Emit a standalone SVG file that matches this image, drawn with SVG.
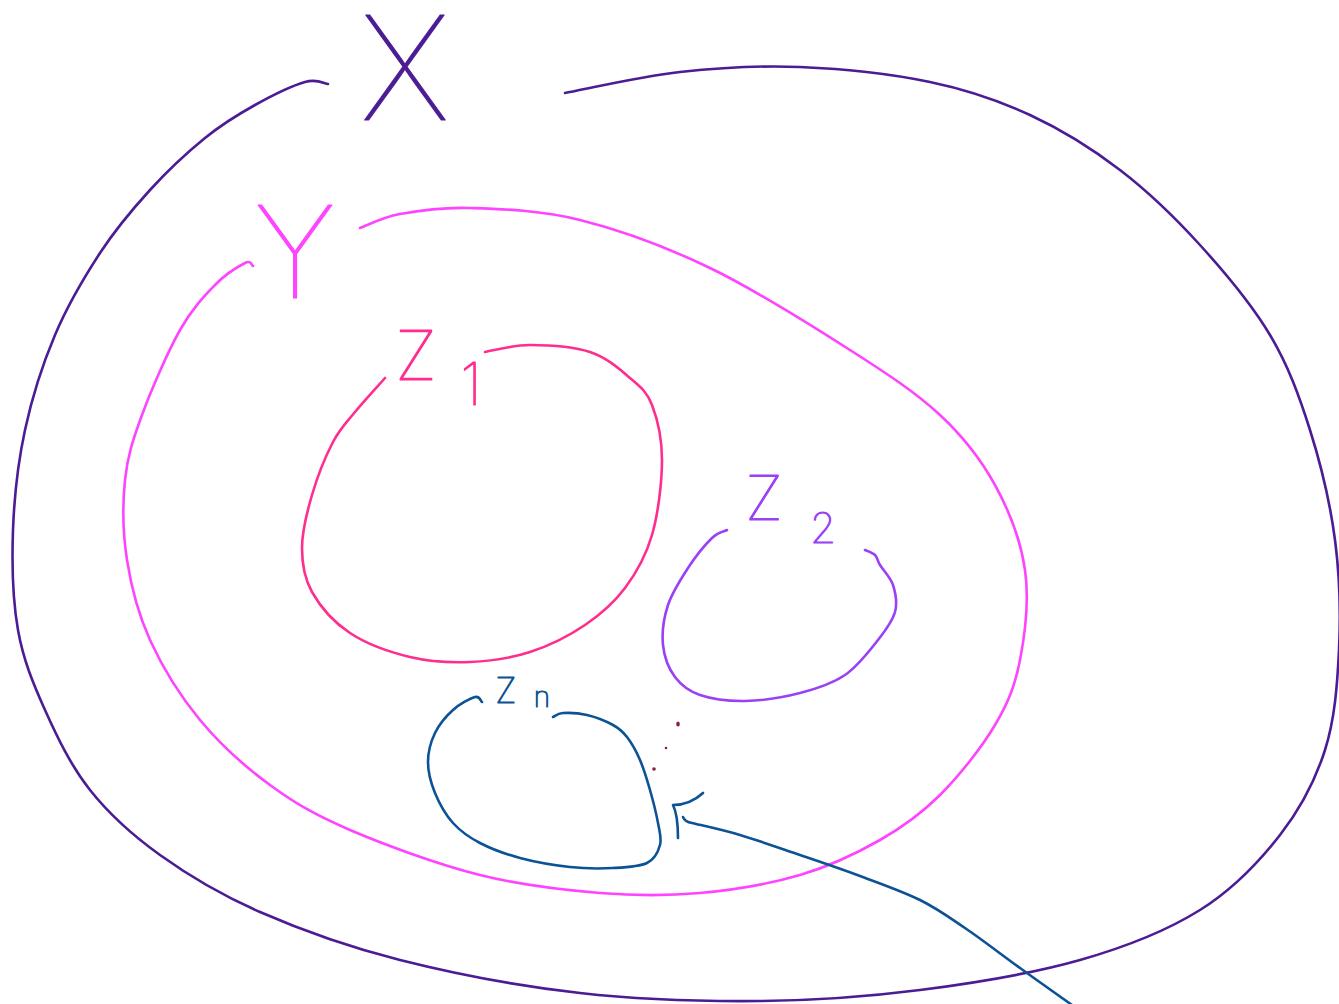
<svg xmlns="http://www.w3.org/2000/svg" width="1339" height="1004" viewBox="0 0 1339 1004">
<style>
.c{fill:none;stroke-width:2.6;stroke-linecap:round;stroke-linejoin:round}
.t{font-family:Inter,"DejaVu Sans",sans-serif;font-weight:100;text-anchor:middle;stroke-width:1.2;stroke-linejoin:round}
.x{stroke:#4b1c94}.xt{fill:#4b1c94;stroke:#4b1c94}
.y{stroke:#ff44ff}.yt{fill:#ff44ff;stroke:#ff44ff}
.z1{stroke:#ff2d8e}.z1t{fill:#ff2d8e;stroke:#ff2d8e}
.z2{stroke:#9a40f5}.z2t{fill:#9a40f5;stroke:#9a40f5}
.zn{stroke:#0d5295}.znt{fill:#0d5295;stroke:#0d5295}
</style>
<rect width="1339" height="1004" fill="#ffffff"/>
<g id="node-x">
<path class="c x" d="M328 84 C324.2 83.7 317.2 78.5 305 82 C292.8 85.5 271.7 95.7 255 105 C238.3 114.3 222.5 123.8 205 138 C187.5 152.2 167.5 170.8 150 190 C132.5 209.2 115.8 228.8 100 253 C84.2 277.2 67.5 305.5 55 335 C42.5 364.5 32 397.5 25 430 C18 462.5 14.2 496.7 13 530 C11.8 563.3 12.7 600 18 630 C23.3 660 33 683.3 45 710 C57 736.7 70.8 765.8 90 790 C109.2 814.2 131.7 834.7 160 855 C188.3 875.3 220 894.5 260 912 C300 929.5 346.7 946.5 400 960 C453.3 973.5 520 986.2 580 993 C640 999.8 703.3 1001.5 760 1001 C816.7 1000.5 866.7 996.8 920 990 C973.3 983.2 1033.3 973.3 1080 960 C1126.7 946.7 1166.7 930.8 1200 910 C1233.3 889.2 1259.2 861.7 1280 835 C1300.8 808.3 1315.2 780.8 1325 750 C1334.8 719.2 1337.3 685 1339 650 C1340.7 615 1339.8 576.7 1335 540 C1330.2 503.3 1320.8 464.2 1310 430 C1299.2 395.8 1288.3 365.8 1270 335 C1251.7 304.2 1225 272.5 1200 245 C1175 217.5 1148.3 191.7 1120 170 C1091.7 148.3 1061.7 129.7 1030 115 C998.3 100.3 968.3 90 930 82 C891.7 74 841.7 68.7 800 67 C758.3 65.3 719.2 67.7 680 72 C640.8 76.3 584.2 89.5 565 93"/>
<text class="t xt" x="405" y="120" font-size="145">X</text>
</g>
<g id="node-y">
<path class="c y" d="M360 228 C366.7 225.7 381.7 217.3 400 214 C418.3 210.7 440 207 470 208 C500 209 540 210 580 220 C620 230 665 246.3 710 268 C755 289.7 811.7 325.5 850 350 C888.3 374.5 915.8 392.5 940 415 C964.2 437.5 980.8 459.2 995 485 C1009.2 510.8 1020.8 540.8 1025 570 C1029.2 599.2 1025 634.2 1020 660 C1015 685.8 1008.3 702.5 995 725 C981.7 747.5 959.2 775.8 940 795 C920.8 814.2 903.3 826.7 880 840 C856.7 853.3 830 866.2 800 875 C770 883.8 733.3 890 700 893 C666.7 896 636.7 896 600 893 C563.3 890 521.7 885.5 480 875 C438.3 864.5 385 845 350 830 C315 815 295 803.3 270 785 C245 766.7 220 744.2 200 720 C180 695.8 162.2 666.7 150 640 C137.8 613.3 131.2 586.7 127 560 C122.8 533.3 122.5 504.2 125 480 C127.5 455.8 132.8 440 142 415 C151.2 390 167.8 351.7 180 330 C192.2 308.3 204.2 296.2 215 285 C225.8 273.8 238.7 266.2 245 263 C251.3 259.8 251.7 265.5 253 266"/>
<text class="t yt" x="295" y="298" font-size="128">Y</text>
</g>
<g id="node-z1">
<path class="c z1" d="M385 378 C380 383.7 363.7 401.3 355 412 C346.3 422.7 340.2 428.2 333 442 C325.8 455.8 317.2 477.3 312 495 C306.8 512.7 302 531.8 302 548 C302 564.2 304 577.8 312 592 C320 606.2 333.7 622.2 350 633 C366.3 643.8 390 652.2 410 657 C430 661.8 450 662.8 470 662 C490 661.2 510.8 658.2 530 652 C549.2 645.8 569.2 635.7 585 625 C600.8 614.3 613.8 603 625 588 C636.2 573 645.8 556.3 652 535 C658.2 513.7 662 481.7 662 460 C662 438.3 657.3 418.7 652 405 C646.7 391.3 640.3 386.8 630 378 C619.7 369.2 606.7 357.5 590 352 C573.3 346.5 547.5 345 530 345 C512.5 345 492.5 350.8 485 352"/>
<text class="t z1t"><tspan x="416" y="380" font-size="69">Z</tspan><tspan x="471" y="405" font-size="59">1</tspan></text>
</g>
<g id="node-z2">
<path class="c z2" d="M727 530 C724.5 531.3 718.5 531.7 712 538 C705.5 544.3 695.3 556.8 688 568 C680.7 579.2 672.2 592.2 668 605 C663.8 617.8 661.8 633 663 645 C664.2 657 668.8 668.7 675 677 C681.2 685.3 688.3 691 700 695 C711.7 699 728.3 701.3 745 701 C761.7 700.7 783.3 697.3 800 693 C816.7 688.7 832 683.8 845 675 C858 666.2 869.7 650.5 878 640 C886.3 629.5 892.5 621.2 895 612 C897.5 602.8 895.5 592.8 893 585 C890.5 577.2 883 570 880 565 C877 560 877.5 557.5 875 555 C872.5 552.5 866.7 550.8 865 550"/>
<text class="t z2t"><tspan x="764" y="520" font-size="62">Z</tspan><tspan x="823" y="543" font-size="42">2</tspan></text>
</g>
<g id="node-zn">
<path class="c zn" d="M482 702 C480.8 701.2 479.8 695.7 475 697 C470.2 698.3 459.7 704 453 710 C446.3 716 439.2 724.3 435 733 C430.8 741.7 428 752 428 762 C428 772 430.8 782.8 435 793 C439.2 803.2 445.5 814.7 453 823 C460.5 831.3 468.8 837.2 480 843 C491.2 848.8 505 854 520 858 C535 862 554.5 865.3 570 867 C585.5 868.7 600.2 868.7 613 868 C625.8 867.3 639.2 866.8 647 863 C654.8 859.2 658.2 851.7 660 845 C661.8 838.3 659.7 832.2 658 823 C656.3 813.8 653 800.5 650 790 C647 779.5 643.8 768.8 640 760 C636.2 751.2 631.5 742.8 627 737 C622.5 731.2 619.7 728.7 613 725 C606.3 721.3 595.3 717 587 715 C578.7 713 568.7 712.7 563 713 C557.3 713.3 554.7 716.3 553 717"/>
<text class="t znt"><tspan x="506" y="703" font-size="35">Z</tspan><tspan x="542" y="707" font-size="28">n</tspan></text>
</g>
<g id="ellipsis" fill="#8e1a46">
<ellipse cx="678" cy="724" rx="1.8" ry="2.6"/>
<circle cx="666" cy="748" r="1.3"/>
<circle cx="654" cy="769" r="1.8"/>
</g>
<g id="connectors">
<path class="c zn" d="M683 817 Q685 822 692 823 C700 825 722 829.7 740 835 C758 840.3 780 848.2 800 855 C820 861.8 840 868.5 860 876 C880 883.5 902.5 891.3 920 900 C937.5 908.7 948.3 916.7 965 928 C981.7 939.3 1002.2 955.2 1020 968 C1037.8 980.8 1063.3 998.8 1072 1005"/>
<path class="c zn" d="M703 793 Q690 805 673 805 Q678 815 678 838"/>
</g>
</svg>
